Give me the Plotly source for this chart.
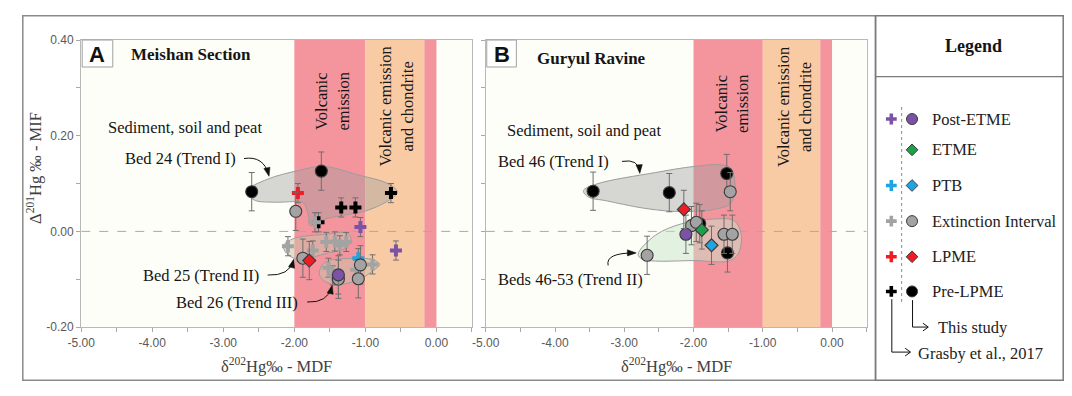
import plotly.graph_objects as go

# The page keeps the browser's default 8px body margin, so the figure is made
# 16px smaller than the window and every page position is shifted by OFF.
PAGE_W, PAGE_H = 1072, 396
OFF = 8
W, H = PAGE_W - 2 * OFF, PAGE_H - 2 * OFF


def px(x):
    return (x - OFF) / W


def py(y):
    return 1 - (y - OFF) / H


SERIF = "Liberation Serif, Times New Roman, serif"
SANS = "Liberation Sans, Arial, sans-serif"

# ---------------- data ----------------
x_tickvals = [-5.0, -4.0, -3.0, -2.0, -1.0, 0.0]
x_ticktext = ["-5.00", "-4.00", "-3.00", "-2.00", "-1.00", "0.00"]
y_tickvals = [-0.2, 0.0, 0.2, 0.4]
y_ticktext = ["-0.20", "0.00", "0.20", "0.40"]

# reference bands (δ202Hg ranges)
band_volcanic = [-2.0, -1.0]
band_chondrite = [-1.0, -0.17]
band_volcanic2 = [-0.17, 0.0]

# Panel A: Meishan Section — Grasby et al., 2017 (crosses)
A_gr_pre_x = [-0.64, -1.34, -1.14, -1.66]
A_gr_pre_y = [0.080, 0.050, 0.050, 0.019]
A_gr_lpme_x = [-1.95]
A_gr_lpme_y = [0.080]
A_gr_ext_x = [-1.71, -2.09, -1.74, -1.55, -1.43, -1.36, -1.27, -1.52, -1.46, -1.13, -0.90]
A_gr_ext_y = [0.019, -0.031, -0.040, -0.022, -0.021, -0.029, -0.022, -0.076, -0.092, -0.080, -0.069]
A_gr_ptb_x = [-1.10]
A_gr_ptb_y = [-0.056]
A_gr_post_x = [-1.07, -0.57]
A_gr_post_y = [0.009, -0.040]

# Panel A: this study (circles / diamonds)
A_st_pre_x = [-2.60, -1.62]
A_st_pre_y = [0.083, 0.126]
A_st_ext_x = [-1.98, -1.88, -1.07, -1.38, -1.10]
A_st_ext_y = [0.042, -0.056, -0.070, -0.100, -0.099]
A_st_lpme_x = [-1.79]
A_st_lpme_y = [-0.061]
A_st_post_x = [-1.38]
A_st_post_y = [-0.091]

# Panel B: Guryul Ravine — this study
B_pre_x = [-3.45, -2.35, -1.52, -1.91, -1.51]
B_pre_y = [0.084, 0.081, 0.121, 0.016, -0.045]
B_ext_x = [-1.47, -2.03, -1.96, -1.56, -1.44, -2.67]
B_ext_y = [0.083, 0.012, 0.019, -0.006, -0.006, -0.050]
B_lpme_x = [-2.14]
B_lpme_y = [0.046]
B_etme_x = [-1.88]
B_etme_y = [0.003]
B_ptb_x = [-1.74]
B_ptb_y = [-0.029]
B_post_x = [-2.11]
B_post_y = [-0.006]

err_cross = 0.02
err_study = 0.04
err_x = 0.05

# trend envelopes
A_trend1_x = [-2.66, -2.38, -1.92, -1.59, -1.13, -0.67, -0.55, -0.67, -0.99, -1.27, -1.59, -1.78, -1.80, -1.87, -1.96, -2.29, -2.57]
A_trend1_y = [0.085, 0.109, 0.128, 0.136, 0.119, 0.099, 0.082, 0.065, 0.043, 0.035, 0.025, 0.012, 0.032, 0.059, 0.062, 0.061, 0.066]
A_trend2_x = [-2.15, -2.01, -1.55, -1.26, -1.20, -1.29, -1.55, -1.87, -2.01, -2.13]
A_trend2_y = [-0.029, -0.015, -0.006, -0.004, -0.019, -0.036, -0.046, -0.058, -0.056, -0.042]
A_trend3_x = [-1.64, -1.55, -1.27, -0.90, -0.80, -0.90, -1.08, -1.36, -1.55, -1.64]
A_trend3_y = [-0.080, -0.063, -0.057, -0.059, -0.069, -0.083, -0.100, -0.111, -0.106, -0.093]
B_trend1_x = [-3.59, -3.40, -2.55, -1.98, -1.60, -1.46, -1.40, -1.46, -1.70, -1.98, -2.31, -2.74, -3.26, -3.52]
B_trend1_y = [0.085, 0.099, 0.123, 0.136, 0.139, 0.132, 0.092, 0.059, 0.046, 0.042, 0.042, 0.049, 0.064, 0.072]
B_trend2_x = [-2.80, -2.55, -2.17, -1.70, -1.41, -1.31, -1.36, -1.50, -1.98, -2.55, -2.74]
B_trend2_y = [-0.048, -0.008, 0.016, 0.026, 0.022, -0.008, -0.048, -0.062, -0.061, -0.062, -0.058]

legend_labels = ["Post-ETME", "ETME", "PTB", "Extinction Interval", "LPME", "Pre-LPME"]
legend_has_cross = [True, False, True, True, True, True]
legend_study_symbol = ["circle", "diamond", "diamond", "circle", "diamond", "circle"]

# ---------------- styles ----------------
C_PURPLE = "#7b52a6"
C_GREEN = "#1f9e4b"
C_BLUE = "#1ea5e3"
C_GRAY = "#a3a3a3"
C_RED = "#ee1c25"
C_BLACK = "#000000"
legend_colors = [C_PURPLE, C_GREEN, C_BLUE, C_GRAY, C_RED, C_BLACK]
OUTLINE = "#3a3a3a"
ERRC = "#6e6e6e"

fig = go.Figure()


def hull(xs, ys, xa, ya, fillcolor):
    fig.add_trace(go.Scatter(
        x=xs + [xs[0]], y=ys + [ys[0]], xaxis=xa, yaxis=ya, mode="lines",
        fill="toself", fillcolor=fillcolor,
        line=dict(color="#9c9c9c", width=1, shape="spline", smoothing=1.0),
        hoverinfo="skip", showlegend=False))


def pts(xs, ys, xa, ya, symbol, color, size, outline=True, ex=True, ey=err_study):
    fig.add_trace(go.Scatter(
        x=xs, y=ys, xaxis=xa, yaxis=ya, mode="markers",
        marker=dict(symbol=symbol, color=color, size=size,
                    line=dict(color=OUTLINE if outline else color, width=1.1 if outline else 0)),
        error_y=dict(type="constant", value=ey, color=ERRC, thickness=1, width=3),
        error_x=dict(type="constant", value=err_x, color=ERRC, thickness=1, width=2, visible=ex),
        showlegend=False, cliponaxis=False, hoverinfo="skip"))


# envelopes
hull(A_trend1_x, A_trend1_y, "x", "y", "rgba(160,160,160,0.42)")
hull(A_trend2_x, A_trend2_y, "x", "y", "rgba(205,192,170,0.55)")
hull(A_trend3_x, A_trend3_y, "x", "y", "rgba(205,192,170,0.55)")
hull(B_trend1_x, B_trend1_y, "x2", "y2", "rgba(160,160,160,0.42)")
hull(B_trend2_x, B_trend2_y, "x2", "y2", "rgba(200,228,200,0.5)")

# Panel A points
pts(A_gr_pre_x, A_gr_pre_y, "x", "y", "cross", C_BLACK, 10, outline=False, ex=False, ey=err_cross)
pts(A_gr_lpme_x, A_gr_lpme_y, "x", "y", "cross", C_RED, 10, outline=False, ex=False, ey=err_cross)
pts(A_gr_ext_x, A_gr_ext_y, "x", "y", "cross", C_GRAY, 10, outline=False, ex=False, ey=err_cross)
pts(A_gr_ptb_x, A_gr_ptb_y, "x", "y", "cross", C_BLUE, 10, outline=False, ex=False, ey=err_cross)
pts(A_gr_post_x, A_gr_post_y, "x", "y", "cross", C_PURPLE, 10, outline=False, ex=False, ey=err_cross)
pts(A_st_pre_x, A_st_pre_y, "x", "y", "circle", C_BLACK, 12)
pts(A_st_ext_x, A_st_ext_y, "x", "y", "circle", C_GRAY, 12)
pts(A_st_post_x, A_st_post_y, "x", "y", "circle", C_PURPLE, 12)
pts(A_st_lpme_x, A_st_lpme_y, "x", "y", "diamond", C_RED, 10)

# Panel B points
pts(B_pre_x, B_pre_y, "x2", "y2", "circle", C_BLACK, 12)
pts(B_ext_x, B_ext_y, "x2", "y2", "circle", C_GRAY, 12)
pts(B_post_x, B_post_y, "x2", "y2", "circle", C_PURPLE, 12)
pts(B_lpme_x, B_lpme_y, "x2", "y2", "diamond", C_RED, 10)
pts(B_etme_x, B_etme_y, "x2", "y2", "diamond", C_GREEN, 10)
pts(B_ptb_x, B_ptb_y, "x2", "y2", "diamond", C_BLUE, 10)

# Legend markers (legend axes use page-pixel units)
row_y = [116, 148, 185, 222, 259, 295]
for i, lab in enumerate(legend_labels):
    if legend_has_cross[i]:
        fig.add_trace(go.Scatter(x=[889], y=[row_y[i]], xaxis="x3", yaxis="y3", mode="markers",
                                 marker=dict(symbol="cross", size=9, color=legend_colors[i], line=dict(width=0)),
                                 showlegend=False, hoverinfo="skip"))
    sym = legend_study_symbol[i]
    fig.add_trace(go.Scatter(x=[910], y=[row_y[i]], xaxis="x3", yaxis="y3", mode="markers",
                             marker=dict(symbol=sym, size=11 if sym == "circle" else 9,
                                         color=legend_colors[i], line=dict(color=OUTLINE, width=1)),
                             showlegend=False, hoverinfo="skip"))

# ---------------- shapes ----------------
shapes = []
for xa, ya in (("x", "y"), ("x2", "y2")):
    shapes.append(dict(type="rect", xref=xa, yref=ya, x0=-5, x1=0.5, y0=-0.2, y1=0.4,
                       fillcolor="#fefef8", line=dict(width=0), layer="below"))
    shapes.append(dict(type="rect", xref=xa, yref=ya, x0=band_volcanic[0], x1=band_volcanic[1],
                       y0=-0.2, y1=0.4, fillcolor="#f4959e", line=dict(width=0), layer="below"))
    shapes.append(dict(type="rect", xref=xa, yref=ya, x0=band_chondrite[0], x1=band_chondrite[1],
                       y0=-0.2, y1=0.4, fillcolor="#f9cba4", line=dict(width=0), layer="below"))
    shapes.append(dict(type="rect", xref=xa, yref=ya, x0=band_volcanic2[0], x1=band_volcanic2[1],
                       y0=-0.2, y1=0.4, fillcolor="#f4959e", line=dict(width=0), layer="below"))
    shapes.append(dict(type="line", xref=xa, yref=ya, x0=-5, x1=0.5, y0=0, y1=0,
                       line=dict(color="#a8a8a8", width=1, dash="dash"), layer="below"))

# frames (kept just inside the figure edge)
FL, FT, FB, FR = 8.8, 8.8, 387.2, 1063.2
shapes.append(dict(type="rect", xref="paper", yref="paper", x0=px(FL), x1=px(873), y0=py(FB), y1=py(FT),
                   line=dict(color="#8a8a8a", width=1.5), layer="above"))
shapes.append(dict(type="rect", xref="paper", yref="paper", x0=px(873), x1=px(FR), y0=py(FB), y1=py(FT),
                   line=dict(color="#7a7a7a", width=1.5), layer="above"))
shapes.append(dict(type="line", xref="paper", yref="paper", x0=px(873), x1=px(FR), y0=py(72), y1=py(72),
                   line=dict(color="#7a7a7a", width=1.2), layer="above"))
# panel letter boxes
for (x0, x1) in ((69, 100), (479, 509)):
    shapes.append(dict(type="rect", xref="paper", yref="paper", x0=px(x0), x1=px(x1), y0=py(62), y1=py(34),
                       fillcolor="white", line=dict(color="#a0a0a0", width=1), layer="above"))


def ppath(points, close=False):
    s = "M " + " L ".join(f"{px(x)},{py(y)}" for x, y in points)
    return s + (" Z" if close else "")


# curved arrows (start, control, end) in page pixels, with filled heads
curves = [((233, 157), (253, 154), (258, 174)),
          ((257, 278), (279, 279), (283, 263)),
          ((297, 306), (318, 307), (322, 290)),
          ((616, 160), (633, 157), (634, 171)),
          ((602, 268), (599, 255), (629, 255))]
for (s, c, e) in curves:
    shapes.append(dict(type="path", xref="paper", yref="paper",
                       path=f"M {px(s[0])},{py(s[1])} Q {px(c[0])},{py(c[1])} {px(e[0])},{py(e[1])}",
                       line=dict(color="#111111", width=1), layer="above"))
    dx, dy = e[0] - c[0], e[1] - c[1]
    n = (dx * dx + dy * dy) ** 0.5
    ux, uy = dx / n, dy / n
    L, w = 7.5, 3.2
    tri = [(e[0] + ux * 1.5, e[1] + uy * 1.5),
           (e[0] - ux * L - uy * w, e[1] - uy * L + ux * w),
           (e[0] - ux * L + uy * w, e[1] - uy * L - ux * w)]
    shapes.append(dict(type="path", xref="paper", yref="paper", path=ppath(tri, close=True),
                       fillcolor="#111111", line=dict(color="#111111", width=0.5), layer="above"))

# legend dotted divider and source arrows
shapes.append(dict(type="line", xref="paper", yref="paper", x0=px(899.5), x1=px(899.5), y0=py(306), y1=py(103),
                   line=dict(color="#8a8a8a", width=1, dash="dot"), layer="above"))
shapes.append(dict(type="path", xref="paper", yref="paper",
                   path=ppath([(910.5, 304), (910.5, 332), (926, 332)]),
                   line=dict(color="#111111", width=1), layer="above"))
shapes.append(dict(type="path", xref="paper", yref="paper",
                   path=ppath([(921, 328), (926.5, 332), (921, 336)]),
                   line=dict(color="#111111", width=1), layer="above"))
shapes.append(dict(type="path", xref="paper", yref="paper",
                   path=ppath([(889.5, 303), (889.5, 358), (908, 358)]),
                   line=dict(color="#111111", width=1), layer="above"))
shapes.append(dict(type="path", xref="paper", yref="paper",
                   path=ppath([(903, 354), (908.5, 358), (903, 362)]),
                   line=dict(color="#111111", width=1), layer="above"))

# ---------------- annotations ----------------
ann = []


def text(x, y, t, size=16, bold=False, angle=0, xanchor="center", font=SERIF, color="#151515"):
    ann.append(dict(x=px(x), y=py(y), xref="paper", yref="paper", text=f"<b>{t}</b>" if bold else t,
                    showarrow=False, xanchor=xanchor, yanchor="middle", textangle=angle,
                    font=dict(family=font, size=size, color=color)))


text(84.5, 48.5, "A", size=22, bold=True, font=SANS, color="#111111")
text(494, 48.5, "B", size=22, bold=True, font=SANS, color="#111111")
text(179, 49, "Meishan Section", size=17, bold=True)
text(585, 53, "Guryul Ravine", size=17, bold=True)
text(173, 125, "Sediment, soil and peat", size=16.5)
text(578, 128, "Sediment, soil and peat", size=16.5)
text(169, 157, "Bed 24 (Trend I)", size=16.5)
text(189, 278, "Bed 25 (Trend II)", size=16.5)
text(226, 306, "Bed 26 (Trend III)", size=16.5)
text(547, 160, "Bed 46 (Trend I)", size=16.5)
text(564, 283, "Beds 46-53 (Trend II)", size=16.5)
text(322, 97, "Volcanic<br>emission", size=16.5, angle=-90)
text(387, 103, "Volcanic emission<br>and chondrite", size=16.5, angle=-90)
text(727, 100, "Volcanic<br>emission", size=16.5, angle=-90)
text(791, 104, "Volcanic emission<br>and chondrite", size=16.5, angle=-90)
text(266, 372, "δ<sup>202</sup>Hg‰ - MDF", size=16.5, color="#404040")
text(671, 372, "δ<sup>202</sup>Hg‰ - MDF", size=16.5, color="#404040")
text(20, 167, "Δ<sup>201</sup>Hg ‰ - MIF", size=16.5, angle=-90, color="#404040")
text(972, 40, "Legend", size=18, bold=True)
for i, lab in enumerate(legend_labels):
    text(928, row_y[i], lab, size=16.5, xanchor="left", color="#222222")
text(934, 332, "This study", size=16.5, xanchor="left", color="#222222")
text(914, 359, "Grasby et al., 2017", size=16.5, xanchor="left", color="#222222")

axis_common = dict(showgrid=False, zeroline=False, showline=True, linecolor="#b8b8b8", linewidth=1.2,
                   mirror=True, ticks="outside", ticklen=4, tickcolor="#a8a8a8", tickwidth=1,
                   tickfont=dict(family=SANS, size=12, color="#595959"))
x_minor = dict(tickmode="linear", tick0=-5, dtick=0.5, ticks="outside", ticklen=4,
               tickcolor="#a8a8a8", tickwidth=1, showgrid=False)
y_minor = dict(tickmode="linear", tick0=-0.2, dtick=0.1, ticks="outside", ticklen=4,
               tickcolor="#a8a8a8", tickwidth=1, showgrid=False)

fig.update_layout(
    width=W, height=H, margin=dict(l=0, r=0, t=0, b=0), autosize=False,
    paper_bgcolor="white", plot_bgcolor="white", showlegend=False, hovermode=False,
    xaxis=dict(domain=[px(68), px(464)], range=[-5, 0.5], tickmode="array", tickvals=x_tickvals,
               ticktext=x_ticktext, anchor="y", minor=x_minor, **axis_common),
    yaxis=dict(domain=[py(332), py(34)], range=[-0.2, 0.4], tickmode="array", tickvals=y_tickvals,
               ticktext=y_ticktext, anchor="x", minor=y_minor, **axis_common),
    xaxis2=dict(domain=[px(478), px(864)], range=[-5, 0.5], tickmode="array", tickvals=x_tickvals,
                ticktext=x_ticktext, anchor="y2", minor=x_minor, **axis_common),
    yaxis2=dict(domain=[py(332), py(34)], range=[-0.2, 0.4], tickmode="array", tickvals=y_tickvals,
                ticktext=y_ticktext, showticklabels=False, anchor="x2", minor=y_minor, **axis_common),
    xaxis3=dict(domain=[px(873), 1], range=[873, OFF + W], visible=False, anchor="y3"),
    yaxis3=dict(domain=[0, 1], range=[OFF + H, OFF], visible=False, anchor="x3"),
    shapes=shapes, annotations=ann,
)

fig.write_html("out.html", config={"displayModeBar": False, "staticPlot": True})
